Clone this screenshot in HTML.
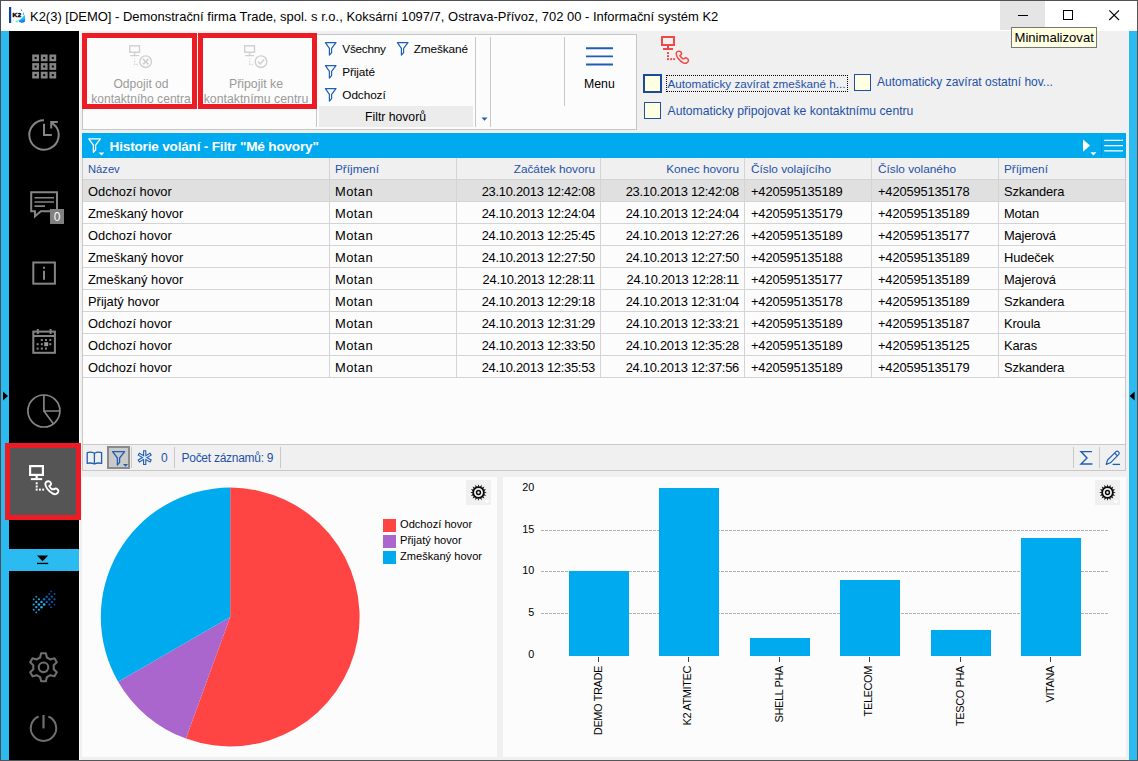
<!DOCTYPE html>
<html>
<head>
<meta charset="utf-8">
<title>K2</title>
<style>
*{box-sizing:border-box;margin:0;padding:0}
html,body{width:1138px;height:761px;overflow:hidden;background:#f0f0f0}
body{font-family:"Liberation Sans",sans-serif;font-size:12px;color:#000;position:relative}
.abs,.abs *{position:absolute}
.abs{position:absolute}
div,span,svg{position:absolute;white-space:nowrap}
/* window chrome */
#win{left:0;top:0;width:1138px;height:761px;background:#f0f0f0}
#titlebar{left:1px;top:1px;width:1136px;height:30px;background:#fff}
#title{left:30px;top:9px;font-size:12.97px;line-height:15px;color:#000}
#minbg{left:1000px;top:0;width:45px;height:30px;background:#e5e5e5}
#bt{left:0;top:0;width:1138px;height:1px;background:#505055}
#bl{left:0;top:0;width:1px;height:761px;background:#4c4c54}
#br{left:1137px;top:0;width:1px;height:761px;background:#5a5353}
#bb{left:0;top:760px;width:1138px;height:1px;background:#55555a}
#lstrip{left:1px;top:31px;width:8px;height:729px;background:#2cbbf0}
#rstrip{left:1129px;top:31px;width:8px;height:729px;background:#2cbbf0}
#side{left:9px;top:31px;width:70px;height:729px;background:#000}
#sidebar2{left:9px;top:549px;width:70px;height:22px;background:#2cbbf0}
#tooltip{left:1011px;top:27px;width:86px;height:21px;background:#ffffe1;border:1px solid #767676;font-size:13.1px;line-height:20px;padding-left:2.5px;color:#000}
/* ribbon */
#ribbon{left:82px;top:34px;width:555px;height:96px;background:#fcfcfc;border:1px solid #c6c6c6}
.redbox{border:5px solid #ed1c24}
.vsep{width:1px;background:#c8c8c8}
.rtxt{color:#9a9a9a;font-size:13px;line-height:15px;text-align:center}
.ftxt{font-size:11.8px;line-height:14px;color:#000}
.link{color:#1e50a8;font-size:11.7px;line-height:14px}
.cb{width:18px;height:18px;background:#ffffe1;border:1px solid #1e50a8}
/* grid */
#ghead{left:82px;top:133px;width:1044px;height:25px;background:#00aaee}
#gtitle{left:27.6px;top:5.6px;color:#fff;font-weight:bold;font-size:13.6px;letter-spacing:-.2px;line-height:15px}
#grid{left:82px;top:158px;width:1044px;height:287px;background:#fcfcfc;border-left:1px solid #c8c8c8;border-right:1px solid #c8c8c8}
.row{left:0;width:1042px;height:22px;border-bottom:1px solid #d4d4d4}
.hrow{background:#f0f0f0}
.sel{background:#e0e0e0}
.c{top:0;height:21px;line-height:23px;font-size:12.9px;border-right:1px solid #d4d4d4;padding:0 5px;overflow:hidden}
.hrow .c{color:#1e50a8;font-size:11.8px}.hrow .c1{font-size:11.2px}
.c1{left:0;width:247px}.c2{left:247px;width:127px}.c3{left:374px;width:144px;text-align:right}.c4{left:518px;width:144px;text-align:right}
.c4{width:144px}.c5{left:662px;width:127px;letter-spacing:-.16px;padding-left:6px}.c6{left:789px;width:127px;letter-spacing:-.16px;padding-left:6px}.c7{left:916px;width:126px;border-right:none;letter-spacing:-.15px}.c3,.c4{letter-spacing:-.26px}.c2{letter-spacing:.45px}.hrow .c{letter-spacing:0}
/* status */
#status{left:82px;top:444px;width:1044px;height:27px;background:#f0f0f0;border:1px solid #c8c8c8}
.ssep{width:1px;height:21px;background:#c8c8c8}
.stxt{color:#1e50a8;font-size:12px;letter-spacing:-.27px;line-height:14px;top:6px}
/* charts */
#pie{left:82px;top:477px;width:415px;height:280px;background:#fcfcfc}
#bar{left:503px;top:477px;width:623px;height:280px;background:#fcfcfc}
.gear{width:25px;height:25px;background:#f0f0f0}
.leg{font-size:11.1px;line-height:14px;color:#000}
.yl{font-size:10.8px;line-height:12px;color:#000;left:11.2px;width:20px;text-align:right}
.xl{font-size:11px;letter-spacing:-.4px;line-height:12px;height:12px;color:#000;top:188.5px;transform-origin:100% 0;transform:rotate(-90deg)}
</style>
</head>
<body>
<div id="win">
  <div id="titlebar"></div>
  <div id="minbg"></div>
  <div id="title">K2(3) [DEMO] - Demonstrační firma Trade, spol. s r.o., Koksární 1097/7, Ostrava-Přívoz, 702 00 - Informační systém K2</div>
  
  <svg style="left:8px;top:6px" width="18" height="18" viewBox="8 6 18 18">
    <defs><linearGradient id="spl" x1="0" y1="0" x2="0.25" y2="1"><stop offset="0" stop-color="#2fe6f4"/><stop offset=".55" stop-color="#22c8f4"/><stop offset="1" stop-color="#0e6cf0"/></linearGradient></defs>
    <rect x="9" y="7" width="2.2" height="16" fill="#0a46a0"/>
    <path d="M18.2 20.6 Q21.4 19.4 24.4 15 L25 15.6 Q25.3 19 24.9 21.6 Q23.6 23 21.2 22.8 Q19.2 22.6 18.2 20.6Z" fill="url(#spl)"/>
    <path d="M15.2 21.4 Q16.6 20.6 17.6 20.6 L18.2 22.6 Q16.6 22.4 15.2 21.4Z" fill="#48efd2"/>
    <circle cx="21.4" cy="10.3" r=".7" fill="#3c78f0"/>
    <path d="M23.3 12 Q24 13.4 23.6 15 L22.8 15.2 Q22.9 13.4 23.3 12Z" fill="#2a72f2"/>
    <circle cx="13.2" cy="20.4" r=".5" fill="#9cc8f8"/>
    <text x="12.6" y="16.9" font-family="Liberation Sans" font-weight="bold" font-size="5.7" fill="#000" stroke="#000" stroke-width=".35" textLength="8.5" lengthAdjust="spacingAndGlyphs">K2</text>
  </svg>
  <svg style="left:1000px;top:1px" width="137" height="30" viewBox="0 0 137 30">
    <rect x="18" y="14" width="10" height="1" fill="#000"/>
    <rect x="63.5" y="9.5" width="9" height="9" fill="none" stroke="#000" stroke-width="1"/>
    <path d="M109.3 9.3 L119 19 M119 9.3 L109.3 19" stroke="#000" stroke-width="1.1" fill="none"/>
  </svg>

  <div id="lstrip"></div><div id="rstrip"></div>
  <div id="side"></div><div style="left:79px;top:31px;width:1px;height:729px;background:#fafafa"></div>
  <div id="sidebar2"></div>
  
  <svg style="left:9px;top:31px" width="70" height="729" viewBox="9 31 70 729" fill="none" stroke="#858585" stroke-width="2">
    <!-- grid 3x3 -->
    <g stroke-width="2.4"><rect x="33.400000000000006" y="55.7" width="4.4" height="4.4"/><rect x="42.0" y="55.7" width="4.4" height="4.4"/><rect x="50.6" y="55.7" width="4.4" height="4.4"/><rect x="33.400000000000006" y="64.3" width="4.4" height="4.4"/><rect x="42.0" y="64.3" width="4.4" height="4.4"/><rect x="50.6" y="64.3" width="4.4" height="4.4"/><rect x="33.400000000000006" y="72.9" width="4.4" height="4.4"/><rect x="42.0" y="72.9" width="4.4" height="4.4"/><rect x="50.6" y="72.9" width="4.4" height="4.4"/></g>
    <!-- history clock -->
    <path d="M55.3 125.6 A14.7 14.7 0 1 1 44 120.3" />
    <path d="M44 123.8 V135 H51.8" />
    <path d="M51.2 128.5 V122 H57.8 M51.6 122.4 L55.6 126.2"/>
    <!-- chat -->
    <path d="M31.2 192.3 H57 V211.2 H40.8 L35 216.3 L35 211.2 H31.2 Z"/>
    <path d="M34.5 197.7 H54 M34.5 202 H54 M34.5 206.1 H45" stroke-width="1.6"/>
    <rect x="50" y="209" width="14" height="15" fill="#808080" stroke="none"/>
    <!-- info -->
    <rect x="33.3" y="262.5" width="21.6" height="21.2"/>
    <path d="M44 266.8 V268.8 M44 270.8 V279.8" stroke-width="2"/>
    <!-- calendar -->
    <rect x="33.3" y="331.6" width="21.6" height="21.2"/>
    <path d="M33.3 336 H55 M37.8 329 V334 M50.6 329 V334" />
    <g fill="#858585" stroke="none">
      <rect x="40.8" y="339" width="2" height="2"/><rect x="45" y="339" width="2" height="2"/><rect x="49.3" y="339" width="2" height="2"/>
      <rect x="36.6" y="343.2" width="2" height="2"/><rect x="40.8" y="343.2" width="2" height="2"/><rect x="44.2" y="342.2" width="4" height="4" fill="#9a9a9a"/><rect x="49.3" y="343.2" width="2" height="2"/>
      <rect x="36.6" y="347.6" width="2" height="2"/><rect x="40.8" y="347.6" width="2" height="2"/><rect x="45" y="347.6" width="2" height="2"/>
    </g>
    <!-- pie -->
    <g stroke-width="1.7"><circle cx="43.9" cy="411" r="16"/>
    <path d="M43.9 395 V411 H60 M43.9 411 L53.3 423.8"/></g>
    <!-- gear -->
    <g stroke="#6f6f6f" stroke-width="2.1">
      <circle cx="43.5" cy="667.3" r="4.8"/>
      <path d="M40.11 657.47 L41.16 653.29 L45.84 653.29 L46.89 657.47 L50.32 659.45 L54.46 658.27 L56.80 662.33 L53.71 665.32 L53.71 669.28 L56.80 672.27 L54.46 676.33 L50.32 675.15 L46.89 677.13 L45.84 681.31 L41.16 681.31 L40.11 677.13 L36.68 675.15 L32.54 676.33 L30.20 672.27 L33.29 669.28 L33.29 665.32 L30.20 662.33 L32.54 658.27 L36.68 659.45Z" stroke-linejoin="round"/>
    </g>
    <!-- power -->
    <g stroke="#6f6f6f" stroke-width="2">
      <path d="M38.6 716.5 A12.7 12.7 0 1 0 48.4 716.5"/>
      <path d="M43.5 715 V728.4" stroke-width="2.2"/>
    </g>
  </svg>
  <div style="left:50px;top:210px;width:14px;height:15px;color:#fff;font-size:12px;line-height:15px;text-align:center">0</div>

  
  <div style="left:5px;top:443px;width:76px;height:77px;background:#555;border:5px solid #ed1c24"></div>
  <svg style="left:0;top:380px" width="90" height="250" viewBox="0 380 90 250" fill="none">
    <path d="M3 391.4 L8 396 L3 400.6Z" fill="#000"/>
    <g fill="#fff">
      <rect x="30.1" y="466.1" width="12.8" height="8.8" fill="none" stroke="#fff" stroke-width="2.2"/>
      <rect x="35.5" y="476" width="2.3" height="2.2"/><rect x="30.9" y="478.1" width="11.3" height="2"/>
      <rect x="35.7" y="482.3" width="2" height="2"/><rect x="35.7" y="485.5" width="2" height="2"/><rect x="35.7" y="488.6" width="2" height="2"/><rect x="39" y="488.6" width="1.9" height="2"/><rect x="42.2" y="488.6" width="1.9" height="2"/>
      <path transform="translate(51.8 487.6) scale(1.07) translate(-682.25 -57.1)" d="M677.8 51.4 Q679.4 50.8 680.5 51.6 L681.5 53 Q681.8 54.2 680.9 54.9 L679.9 55.7 Q681 57.7 682.7 58.7 L684.3 58.7 Q685.4 57.5 686.5 58 L688 59.2 Q688.9 60.4 688 61.7 L686.6 63 Q685 63.7 683.3 62.8 Q680.2 61.2 678 58.2 Q676.2 55.6 676.2 53.4 Q676.4 52 677.8 51.4Z" fill="none" stroke="#fff" stroke-width="1.8" stroke-linejoin="round"/>
    </g>
    <path d="M37 555.6 H48.2 L42.6 561.2Z" fill="#000"/>
    <rect x="37" y="562.8" width="11.2" height="1.3" fill="#000"/>
    <circle cx="36.31" cy="596.68" r="0.90" fill="#14a6e4"/><circle cx="33.71" cy="599.30" r="0.90" fill="#14a6e4"/><circle cx="38.91" cy="599.30" r="1.07" fill="#1cb6f2"/><circle cx="36.31" cy="601.91" r="1.13" fill="#1cb6f2"/><circle cx="41.51" cy="601.91" r="1.19" fill="#1cb6f2"/><circle cx="33.71" cy="604.53" r="1.07" fill="#1cb6f2"/><circle cx="38.91" cy="604.53" r="1.24" fill="#1cb6f2"/><circle cx="44.11" cy="604.53" r="1.30" fill="#1cb6f2"/><circle cx="36.31" cy="607.14" r="1.13" fill="#1cb6f2"/><circle cx="41.51" cy="607.14" r="1.24" fill="#1cb6f2"/><circle cx="33.71" cy="609.76" r="0.96" fill="#14a6e4"/><circle cx="38.91" cy="609.76" r="1.07" fill="#1cb6f2"/><circle cx="36.31" cy="612.38" r="0.90" fill="#14a6e4"/><circle cx="51.11" cy="591.45" r="0.85" fill="#0a55a8"/><circle cx="49.31" cy="594.06" r="1.02" fill="#0a55a8"/><circle cx="54.51" cy="594.06" r="0.96" fill="#0a55a8"/><circle cx="46.71" cy="596.68" r="1.19" fill="#0b60bc"/><circle cx="51.91" cy="596.68" r="1.13" fill="#0b60bc"/><circle cx="44.11" cy="599.30" r="1.24" fill="#0a6ccc"/><circle cx="49.31" cy="599.30" r="1.24" fill="#0b60bc"/><circle cx="54.51" cy="599.30" r="1.07" fill="#0b60bc"/><circle cx="46.71" cy="601.91" r="1.19" fill="#0b60bc"/><circle cx="51.91" cy="601.91" r="1.07" fill="#0b60bc"/><circle cx="49.31" cy="604.53" r="1.07" fill="#0b60bc"/><circle cx="54.51" cy="604.53" r="0.85" fill="#0a55a8"/><circle cx="51.11" cy="607.14" r="0.90" fill="#0a55a8"/>
  </svg>
  <svg style="left:1128px;top:388px" width="10" height="16" viewBox="1128 388 10 16"><path d="M1134.6 391.4 L1129.6 396 L1134.6 400.6Z" fill="#000"/></svg>
  <div id="ribbon"></div>
  
  <div class="redbox" style="left:82px;top:33px;width:115px;height:76px"></div>
  <div class="redbox" style="left:198px;top:33px;width:119px;height:76px"></div>
  <div class="rtxt" style="left:88px;top:77px;width:106px;font-size:12.1px">Odpojit od<br>kontaktního centra</div>
  <div class="rtxt" style="left:201px;top:77px;width:110px;font-size:12.3px">Připojit ke<br>kontaktnímu centru</div>
  <svg style="left:82px;top:33px" width="560" height="100" viewBox="82 33 560 100">
    <g transform="translate(128.8 45)" fill="none" stroke="#cfcfcf" stroke-width="1.4"><rect x="0.9" y="0.8" width="9.8" height="6.4"/><path d="M5.8 7.4 V10.2 M1.4 10.6 H10.2"/><path d="M5.8 13.4 V19.4 H9.2" stroke-dasharray="1.2 1.4" stroke-width="1.2"/></g>
    <circle cx="145.65" cy="61.65" r="5.8" fill="none" stroke="#cfcfcf" stroke-width="1.4"/>
    <path d="M142.9 58.9 L148.4 64.4 M148.4 58.9 L142.9 64.4" stroke="#cfcfcf" stroke-width="1.5"/>
    <g transform="translate(243.8 45)" fill="none" stroke="#cfcfcf" stroke-width="1.4"><rect x="0.9" y="0.8" width="9.8" height="6.4"/><path d="M5.8 7.4 V10.2 M1.4 10.6 H10.2"/><path d="M5.8 13.4 V19.4 H9.2" stroke-dasharray="1.2 1.4" stroke-width="1.2"/></g>
    <circle cx="261" cy="61.65" r="5.8" fill="none" stroke="#cfcfcf" stroke-width="1.4"/>
    <path d="M257.8 61.6 L260.2 64 L264.2 59.4" stroke="#cfcfcf" stroke-width="1.5" fill="none"/>
    <path transform="translate(325 42.5)" d="M0.4 0.2 H11 L6.6 5.9 V10.1 L4.4 12.6 V5.9 Z" fill="none" stroke="#1e5fb4" stroke-width="1.2" stroke-linejoin="round"/><path transform="translate(325 65.5)" d="M0.4 0.2 H11 L6.6 5.9 V10.1 L4.4 12.6 V5.9 Z" fill="none" stroke="#1e5fb4" stroke-width="1.2" stroke-linejoin="round"/><path transform="translate(325 88.5)" d="M0.4 0.2 H11 L6.6 5.9 V10.1 L4.4 12.6 V5.9 Z" fill="none" stroke="#1e5fb4" stroke-width="1.2" stroke-linejoin="round"/><path transform="translate(397 42.5)" d="M0.4 0.2 H11 L6.6 5.9 V10.1 L4.4 12.6 V5.9 Z" fill="none" stroke="#1e5fb4" stroke-width="1.2" stroke-linejoin="round"/>
    <path d="M481.5 117.5 H487.5 L484.5 120.8Z" fill="#1e5fb4"/>
    <path d="M586 48.3 H613 M586 56.4 H613 M586 64.5 H613" stroke="#1e5fb4" stroke-width="1.9"/>
  </svg>
  <div class="vsep" style="left:316px;top:109px;height:18px"></div>
  <div class="vsep" style="left:475px;top:37px;height:90px"></div>
  <div class="vsep" style="left:490px;top:37px;height:90px"></div>
  <div class="vsep" style="left:564px;top:37px;height:69px"></div>
  <div style="left:319px;top:106px;width:154px;height:21px;background:#ececec;text-align:center;font-size:12.2px;line-height:22.5px;text-indent:-1px">Filtr hovorů</div>
  <div class="ftxt" style="left:342.3px;top:42px;letter-spacing:-.28px">Všechny</div>
  <div class="ftxt" style="left:413.7px;top:42px;letter-spacing:-.1px">Zmeškané</div>
  <div class="ftxt" style="left:342.3px;top:65px;letter-spacing:-.12px">Přijaté</div>
  <div class="ftxt" style="left:342.3px;top:88px;letter-spacing:-.09px">Odchozí</div>
  <div style="left:584px;top:77px;font-size:12.3px;line-height:15px">Menu</div>

  <svg style="left:655px;top:33px" width="40" height="36" viewBox="655 33 40 36">
    <rect x="662" y="37" width="12" height="8" fill="none" stroke="#f14848" stroke-width="2"/>
    <g fill="#f14848"><rect x="667" y="46" width="2" height="2"/><rect x="663" y="48" width="10" height="2"/>
    <rect x="667" y="52.1" width="2" height="1.9"/><rect x="667" y="55.2" width="2" height="1.9"/><rect x="667" y="58.2" width="2" height="1.9"/><rect x="670.2" y="58.2" width="1.9" height="1.9"/><rect x="673.2" y="58.2" width="1.9" height="1.9"/></g>
    <path d="M677.8 51.4 Q679.4 50.8 680.5 51.6 L681.5 53 Q681.8 54.2 680.9 54.9 L679.9 55.7 Q681 57.7 682.7 58.7 L684.3 58.7 Q685.4 57.5 686.5 58 L688 59.2 Q688.9 60.4 688 61.7 L686.6 63 Q685 63.7 683.3 62.8 Q680.2 61.2 678 58.2 Q676.2 55.6 676.2 53.4 Q676.4 52 677.8 51.4Z" fill="none" stroke="#f14848" stroke-width="1.5" stroke-linejoin="round"/>
  </svg>
  <div class="cb" style="left:643px;top:74px;width:19px;height:19px;border:2px solid #1a4a9e"></div>
  <div class="cb" style="left:644px;top:102px;width:17px;height:17px"></div>
  <div class="cb" style="left:854px;top:74px;width:17px;height:17px"></div>
  <div style="left:666px;top:75px;width:182px;height:17px;border:1px dotted #000"></div>
  <div class="link" style="left:667.5px;top:76.5px">Automaticky zavírat zmeškané h...</div>
  <div class="link" style="left:877px;top:75px;font-size:12px">Automaticky zavírat ostatní hov...</div>
  <div class="link" style="left:667.5px;top:103.5px;font-size:12.2px">Automaticky připojovat ke kontaktnímu centru</div>

  <div id="ghead"><div id="gtitle">Historie volání - Filtr "Mé hovory"</div><svg style="left:0;top:0" width="1044" height="25" viewBox="82 133 1044 25" fill="none" stroke="#fff">
      <path d="M88.8 138.9 H100.4 L95.6 145.2 V149.8 L93.4 152.4 V145.2 Z" stroke-width="1.3" stroke-linejoin="round"/>
      <path d="M98.6 152.4 H104.4 L101.5 155.6Z" fill="#fff" stroke="none"/>
      <path d="M1083 139.4 L1090.1 145.6 L1083 151.8 Z" fill="#fff" stroke="none"/>
      <path d="M1090.4 152.2 H1096.4 L1093.4 155.5Z" fill="#fff" stroke="none"/>
      <path d="M1101.5 135 V157" stroke="#0095d6" stroke-width="1"/>
      <path d="M1104.2 140.3 H1123 M1104.2 145.6 H1123 M1104.2 150.9 H1123" stroke-width="1.2"/>
    </svg></div>
  <div id="grid">
    <div class="row hrow" style="top:0px"><div class="c c1">Název</div><div class="c c2">Příjmení</div><div class="c c3">Začátek hovoru</div><div class="c c4">Konec hovoru</div><div class="c c5">Číslo volajícího</div><div class="c c6">Číslo volaného</div><div class="c c7">Příjmení</div></div>
    <div class="row sel" style="top:22px"><div class="c c1">Odchozí hovor</div><div class="c c2">Motan</div><div class="c c3">23.10.2013 12:42:08</div><div class="c c4">23.10.2013 12:42:08</div><div class="c c5">+420595135189</div><div class="c c6">+420595135178</div><div class="c c7">Szkandera</div></div>
    <div class="row " style="top:44px"><div class="c c1">Zmeškaný hovor</div><div class="c c2">Motan</div><div class="c c3">24.10.2013 12:24:04</div><div class="c c4">24.10.2013 12:24:04</div><div class="c c5">+420595135179</div><div class="c c6">+420595135189</div><div class="c c7">Motan</div></div>
    <div class="row " style="top:66px"><div class="c c1">Odchozí hovor</div><div class="c c2">Motan</div><div class="c c3">24.10.2013 12:25:45</div><div class="c c4">24.10.2013 12:27:26</div><div class="c c5">+420595135189</div><div class="c c6">+420595135177</div><div class="c c7">Majerová</div></div>
    <div class="row " style="top:88px"><div class="c c1">Zmeškaný hovor</div><div class="c c2">Motan</div><div class="c c3">24.10.2013 12:27:50</div><div class="c c4">24.10.2013 12:27:50</div><div class="c c5">+420595135188</div><div class="c c6">+420595135189</div><div class="c c7">Hudeček</div></div>
    <div class="row " style="top:110px"><div class="c c1">Zmeškaný hovor</div><div class="c c2">Motan</div><div class="c c3">24.10.2013 12:28:11</div><div class="c c4">24.10.2013 12:28:11</div><div class="c c5">+420595135177</div><div class="c c6">+420595135189</div><div class="c c7">Majerová</div></div>
    <div class="row " style="top:132px"><div class="c c1">Přijatý hovor</div><div class="c c2">Motan</div><div class="c c3">24.10.2013 12:29:18</div><div class="c c4">24.10.2013 12:31:04</div><div class="c c5">+420595135178</div><div class="c c6">+420595135189</div><div class="c c7">Szkandera</div></div>
    <div class="row " style="top:154px"><div class="c c1">Odchozí hovor</div><div class="c c2">Motan</div><div class="c c3">24.10.2013 12:31:29</div><div class="c c4">24.10.2013 12:33:21</div><div class="c c5">+420595135189</div><div class="c c6">+420595135187</div><div class="c c7">Kroula</div></div>
    <div class="row " style="top:176px"><div class="c c1">Odchozí hovor</div><div class="c c2">Motan</div><div class="c c3">24.10.2013 12:33:50</div><div class="c c4">24.10.2013 12:35:28</div><div class="c c5">+420595135189</div><div class="c c6">+420595135125</div><div class="c c7">Karas</div></div>
    <div class="row " style="top:198px"><div class="c c1">Odchozí hovor</div><div class="c c2">Motan</div><div class="c c3">24.10.2013 12:35:53</div><div class="c c4">24.10.2013 12:37:56</div><div class="c c5">+420595135189</div><div class="c c6">+420595135179</div><div class="c c7">Szkandera</div></div>
  </div>
  <div id="status">
    <svg style="left:-1px;top:-1px" width="1044" height="27" viewBox="82 444 1044 27" fill="none" stroke="#1e5fb4" stroke-width="1.3">
      <!-- book -->
      <path d="M87.2 452.6 Q91 451.4 94.4 453.2 Q97.8 451.4 101.6 452.6 V463.4 Q97.8 462.4 94.4 464 Q91 462.4 87.2 463.4 Z M94.4 453.2 V464" stroke-linejoin="round"/>
      <!-- pressed filter button -->
      <rect x="108" y="447" width="21" height="21" fill="#cacaca" stroke="#8a8a8a" stroke-width="2"/>
      <path d="M112.6 451.6 H124.6 L119.6 458 V462.4 L117.4 465 V458 Z" stroke-linejoin="round"/>
      <path d="M123 464 H128 L125.5 466.8Z" fill="#1e5fb4" stroke="none"/>
      <!-- snowflake -->
      <g transform="translate(144.7 457.6)" stroke-linecap="butt">
        <path d="M0 -7.4 V7.4 M-6.4 -3.7 L6.4 3.7 M-6.4 3.7 L6.4 -3.7" stroke="#1e5fb4" stroke-width="3.3"/>
        <path d="M0 -6.3 V6.3 M-5.45 -3.15 L5.45 3.15 M-5.45 3.15 L5.45 -3.15" stroke="#f0f0f0" stroke-width="1.1"/>
      </g>
      <!-- sigma -->
      <path d="M1092 451.6 H1081 L1087 458 L1081 464 H1092.4" stroke-width="1.4" stroke-linejoin="miter"/>
      <!-- pencil -->
      <path d="M1106.2 464.4 L1107.6 460 L1116 451.6 Q1117.4 450.6 1118.6 451.8 Q1119.8 453 1118.8 454.4 L1110.4 462.8 Z M1114.6 453 L1117.4 455.8" stroke-width="1.2" stroke-linejoin="round"/>
      <path d="M1112.6 464.4 H1120" stroke-width="1.3"/>
    </svg>
    <div class="ssep" style="left:48px;top:2px"></div>
    <div class="ssep" style="left:91px;top:2px"></div>
    <div class="ssep" style="left:197px;top:2px"></div>
    <div class="ssep" style="left:990px;top:2px"></div>
    <div class="ssep" style="left:1016px;top:2px"></div>
    <div class="stxt" style="left:78px;top:5.5px">0</div>
    <div class="stxt" style="left:98.5px;top:5.5px">Počet záznamů: 9</div>
</div>
  <div id="pie">
    <svg style="left:0;top:0" width="416" height="280" viewBox="82 477 416 280">
      <path d="M230.2 617 L230.20 487.60 A129.4 129.4 0 1 1 185.94 738.60Z" fill="#ff4444"/><path d="M230.2 617 L185.94 738.60 A129.4 129.4 0 0 1 118.14 681.70Z" fill="#aa66cc"/><path d="M230.2 617 L118.14 681.70 A129.4 129.4 0 0 1 230.20 487.60Z" fill="#00aaee"/>
      <rect x="466" y="480" width="25" height="25" fill="#f0f0f0"/>
      <path d="M484.34 491.68 L486.85 492.50 L484.34 493.32ZM484.21 493.98 L486.21 495.70 L483.58 495.49ZM483.21 496.05 L484.40 498.40 L482.05 497.21ZM481.49 497.58 L481.70 500.21 L479.98 498.21ZM479.32 498.34 L478.50 500.85 L477.68 498.34ZM477.02 498.21 L475.30 500.21 L475.51 497.58ZM474.95 497.21 L472.60 498.40 L473.79 496.05ZM473.42 495.49 L470.79 495.70 L472.79 493.98ZM472.66 493.32 L470.15 492.50 L472.66 491.68ZM472.79 491.02 L470.79 489.30 L473.42 489.51ZM473.79 488.95 L472.60 486.60 L474.95 487.79ZM475.51 487.42 L475.30 484.79 L477.02 486.79ZM477.68 486.66 L478.50 484.15 L479.32 486.66ZM479.98 486.79 L481.70 484.79 L481.49 487.42ZM482.05 487.79 L484.40 486.60 L483.21 488.95ZM483.58 489.51 L486.21 489.30 L484.21 491.02Z" fill="#0a0a0a"/><circle cx="478.5" cy="492.5" r="5.35" fill="none" stroke="#0a0a0a" stroke-width="1.75"/><circle cx="478.5" cy="492.5" r="1.95" fill="none" stroke="#0a0a0a" stroke-width="1.4"/><path d="M484.1 500.5 h5.6 l-2.8 3z" fill="#fff"/>
      <rect x="383" y="519" width="13" height="13" fill="#ff4444"/>
      <rect x="383" y="535" width="13" height="13" fill="#aa66cc"/>
      <rect x="383" y="551" width="13" height="13" fill="#00aaee"/>
    </svg>
    <div class="leg" style="left:318px;top:39.5px">Odchozí hovor</div>
    <div class="leg" style="left:318px;top:55.5px">Přijatý hovor</div>
    <div class="leg" style="left:318px;top:71.5px">Zmeškaný hovor</div>
</div>
  <div id="bar"><svg style="left:0;top:0" width="623" height="280" viewBox="503 477 623 280"><path d="M541 530.5 H1108" stroke="#b2b2b2" stroke-width="1" stroke-dasharray="3 1"/><path d="M541 571.5 H1108" stroke="#b2b2b2" stroke-width="1" stroke-dasharray="3 1"/><path d="M541 613.5 H1108" stroke="#b2b2b2" stroke-width="1" stroke-dasharray="3 1"/><rect x="569" y="571" width="60" height="85" fill="#00aaee"/><rect x="598" y="657" width="1" height="5" fill="#444"/><rect x="659" y="488" width="60" height="168" fill="#00aaee"/><rect x="688" y="657" width="1" height="5" fill="#444"/><rect x="750" y="638" width="60" height="18" fill="#00aaee"/><rect x="779" y="657" width="1" height="5" fill="#444"/><rect x="840" y="580" width="60" height="76" fill="#00aaee"/><rect x="869" y="657" width="1" height="5" fill="#444"/><rect x="931" y="630" width="60" height="26" fill="#00aaee"/><rect x="960" y="657" width="1" height="5" fill="#444"/><rect x="1021" y="538" width="60" height="118" fill="#00aaee"/><rect x="1050" y="657" width="1" height="5" fill="#444"/><rect x="1095" y="480" width="25" height="25" fill="#f0f0f0"/><path d="M1113.34 491.68 L1115.85 492.50 L1113.34 493.32ZM1113.21 493.98 L1115.21 495.70 L1112.58 495.49ZM1112.21 496.05 L1113.40 498.40 L1111.05 497.21ZM1110.49 497.58 L1110.70 500.21 L1108.98 498.21ZM1108.32 498.34 L1107.50 500.85 L1106.68 498.34ZM1106.02 498.21 L1104.30 500.21 L1104.51 497.58ZM1103.95 497.21 L1101.60 498.40 L1102.79 496.05ZM1102.42 495.49 L1099.79 495.70 L1101.79 493.98ZM1101.66 493.32 L1099.15 492.50 L1101.66 491.68ZM1101.79 491.02 L1099.79 489.30 L1102.42 489.51ZM1102.79 488.95 L1101.60 486.60 L1103.95 487.79ZM1104.51 487.42 L1104.30 484.79 L1106.02 486.79ZM1106.68 486.66 L1107.50 484.15 L1108.32 486.66ZM1108.98 486.79 L1110.70 484.79 L1110.49 487.42ZM1111.05 487.79 L1113.40 486.60 L1112.21 488.95ZM1112.58 489.51 L1115.21 489.30 L1113.21 491.02Z" fill="#0a0a0a"/><circle cx="1107.5" cy="492.5" r="5.35" fill="none" stroke="#0a0a0a" stroke-width="1.75"/><circle cx="1107.5" cy="492.5" r="1.95" fill="none" stroke="#0a0a0a" stroke-width="1.4"/><path d="M1113.1 500.5 h5.6 l-2.8 3z" fill="#fff"/></svg><div class="yl" style="top:4px">20</div><div class="yl" style="top:46px">15</div><div class="yl" style="top:87px">10</div><div class="yl" style="top:129px">5</div><div class="yl" style="top:171px">0</div><div class="xl" style="right:534.37px">DEMO TRADE</div><div class="xl" style="right:444.37px">K2 ATMITEC</div><div class="xl" style="right:353.37px">SHELL PHA</div><div class="xl" style="right:263.37px">TELECOM</div><div class="xl" style="right:172.37px">TESCO PHA</div><div class="xl" style="right:82.37px">VITANA</div></div>
  <div id="tooltip">Minimalizovat</div>
  <div id="bt"></div><div id="bl"></div><div id="br"></div><div id="bb"></div>
</div>
</body>
</html>
